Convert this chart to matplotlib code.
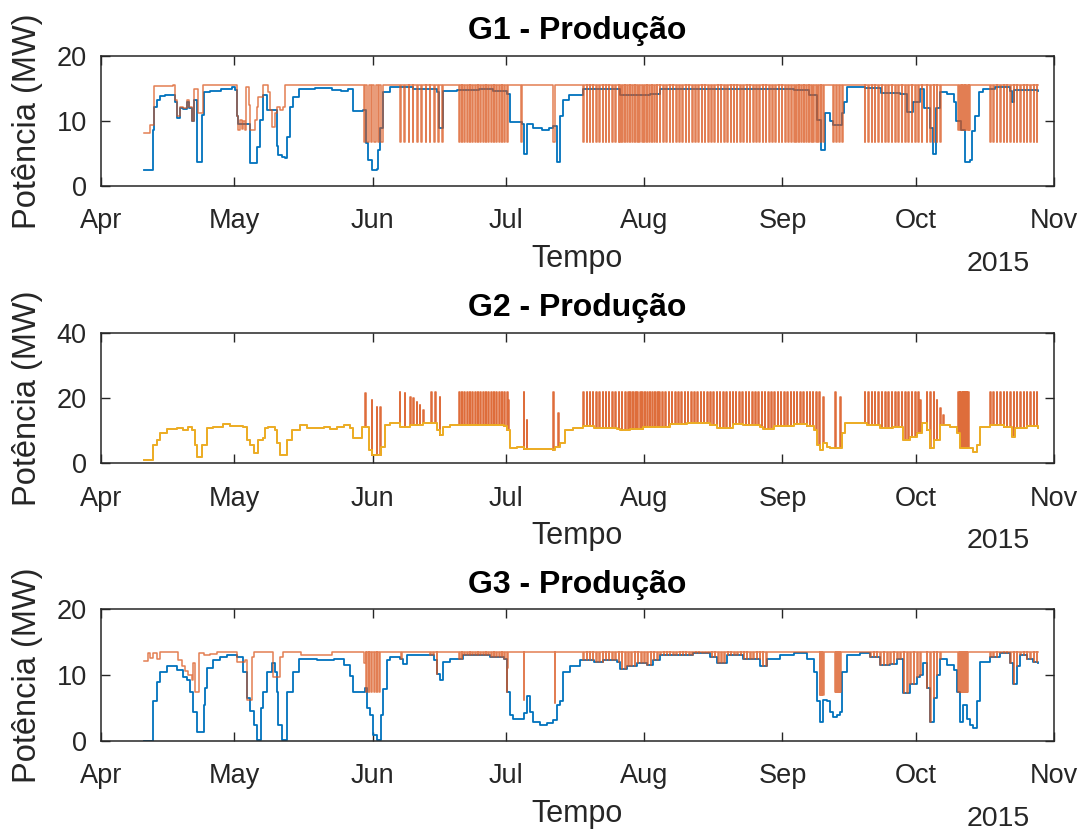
import numpy as np
import matplotlib
matplotlib.use("Agg")
import matplotlib.pyplot as plt
import matplotlib.dates as mdates

plt.rcParams['font.family'] = ['Liberation Sans', 'DejaVu Sans']

# ---------------- data (days since 2015-04-01, MW) ----------------
g1_blue_day = [9.8, 11.8, 12.0, 12.6, 13.3, 14.4, 16.7, 17.1, 17.8, 18.5, 19.3, 19.9, 20.4, 20.9, 21.5, 22.7,
               23.2, 24.5, 27.0, 29.5, 30.1, 30.5, 30.9, 33.5, 35.0, 35.7, 36.5, 37.3, 39.5, 39.9, 40.6, 41.4,
               41.7, 42.5, 43.2, 44.4, 48.0, 52.0, 54.0, 55.5, 56.7, 58.9, 59.5, 60.0, 60.8, 62.0, 62.3, 62.7,
               63.4, 64.9, 70.0, 75.4, 76.0, 76.9, 80.0, 85.0, 88.0, 91.1, 91.8, 94.5, 94.9, 95.6, 97.0, 99.0,
               100.5, 101.6, 102.3, 103.1, 103.8, 105.0, 108.3, 116.5, 123.3, 125.5, 155.5, 159.0, 160.7, 161.7,
               162.5, 163.7, 164.4, 166.0, 166.3, 166.7, 167.5, 171.5, 175.0, 179.4, 180.9, 182.4, 183.9, 184.7,
               186.0, 186.8, 187.5, 188.3, 190.0, 191.5, 192.0, 193.0, 194.0, 195.0, 195.6, 196.3, 197.0, 198.0,
               200.6, 204.0, 204.4, 205.0, 210.4]
g1_blue_val = [2.4, 8.6, 12.2, 13.2, 13.8, 14.0, 13.0, 10.5, 12.0, 11.8, 13.0, 12.0, 10.0, 13.2, 3.7, 10.9,
               14.5, 14.6, 15.0, 15.2, 14.8, 10.7, 9.6, 3.5, 6.0, 10.2, 14.0, 11.7, 6.1, 4.8, 4.5, 4.3,
               7.6, 12.2, 13.7, 15.0, 15.1, 14.8, 14.6, 15.0, 11.5, 11.7, 6.6, 4.0, 2.5, 2.6, 5.5, 9.0,
               14.5, 15.2, 15.0, 14.5, 9.0, 14.6, 14.8, 15.0, 14.6, 14.2, 9.9, 9.6, 5.0, 9.5, 9.0, 8.6,
               9.0, 9.2, 3.7, 10.7, 13.2, 14.0, 14.9, 14.0, 14.2, 14.9, 14.7, 14.0, 10.2, 5.5,
               11.2, 10.0, 9.4, 9.4, 11.2, 13.0, 15.2, 15.1, 14.3, 14.2, 11.4, 13.0, 14.9, 12.0,
               9.0, 5.0, 12.0, 14.5, 14.2, 12.9, 10.0, 8.6, 3.7, 4.0, 8.4, 10.7, 14.5, 14.9,
               15.2, 14.6, 13.0, 14.8, 14.6]

g1_orange_day = [9.8, 11.0, 11.9, 16.3, 16.7, 17.1, 17.8, 18.5, 19.3, 19.9, 20.4, 20.9, 21.9, 23.0, 30.1,
                 30.5, 30.9, 31.3, 31.6, 32.0, 32.3, 32.6, 33.2, 33.5, 34.6, 35.0, 35.3, 36.5, 37.6, 38.0,
                 38.4, 39.1, 39.5, 40.2, 41.0, 41.4, 210.4]
g1_orange_val = [8.1, 9.4, 15.4, 15.5, 13.2, 10.7, 12.2, 12.0, 13.2, 12.2, 10.0, 15.0, 11.2, 15.5, 15.5,
                 10.7, 8.6, 10.2, 8.8, 10.0, 8.6, 15.3, 12.5, 8.6, 10.2, 12.2, 13.7, 15.5, 14.5, 11.7,
                 9.1, 11.2, 12.2, 11.7, 12.2, 15.5, 15.5]
# spike groups: (first day, last day, spacing, duration, level)
g1_spikes = [(59.0, 62.6, 0.8, 0.3, 6.8), (67.2, 76.4, 0.95, 0.12, 6.8), (80.4, 91.0, 0.6, 0.12, 6.8),
             (94.4, 94.4, 1.0, 0.2, 6.8), (101.6, 101.6, 1.0, 0.25, 6.8), (108.3, 116.0, 0.72, 0.12, 6.8),
             (116.5, 125.0, 0.55, 0.15, 6.8), (125.5, 154.5, 0.72, 0.12, 6.8), (155.0, 162.2, 0.55, 0.15, 6.8),
             (164.4, 166.3, 0.65, 0.12, 6.8), (171.5, 184.0, 0.75, 0.12, 6.8), (185.4, 188.7, 0.75, 0.12, 6.8),
             (192.5, 195.0, 0.35, 0.15, 8.6), (199.6, 210.2, 0.75, 0.12, 6.8)]

g2_yellow_day = [9.8, 11.8, 12.6, 13.3, 14.8, 17.1, 18.5, 19.7, 20.4, 21.2, 21.5, 22.7, 23.8, 25.3, 27.5,
                 29.0, 32.0, 32.8, 33.5, 34.3, 35.4, 36.5, 36.9, 37.6, 39.1, 39.5, 40.2, 41.7, 42.9, 44.7,
                 46.2, 50.0, 51.5, 53.0, 54.5, 56.0, 56.7, 58.6, 60.1, 60.8, 63.0, 63.8, 64.9, 67.2, 69.4,
                 72.4, 75.4, 76.1, 76.9, 78.4, 90.4, 91.1, 91.9, 93.4, 94.9, 101.6, 102.0, 103.1, 104.2,
                 106.1, 108.3, 110.6, 115.8, 116.6, 118.8, 121.8, 124.0, 127.8, 131.5, 134.5, 136.8, 138.3,
                 142.0, 144.2, 148.0, 148.7, 151.0, 155.5, 158.4, 160.0, 160.7, 161.4, 162.2, 162.9, 163.7,
                 166.3, 167.0, 168.2, 171.9, 174.9, 177.9, 180.1, 181.6, 183.1, 184.3, 185.4, 186.1, 186.9,
                 188.4, 190.6, 192.1, 192.9, 195.8, 196.6, 197.3, 199.6, 202.6, 204.4, 205.2, 207.8, 210.4]
g2_yellow_val = [1.0, 5.6, 7.1, 9.2, 10.5, 10.9, 10.2, 11.2, 10.2, 5.6, 2.0, 5.6, 10.7, 11.2, 11.9,
                 11.5, 11.2, 7.1, 5.6, 3.1, 7.1, 7.7, 10.7, 11.2, 10.2, 6.1, 2.6, 7.1, 10.2, 11.7,
                 10.7, 11.2, 10.5, 11.2, 11.7, 10.7, 7.7, 11.2, 4.0, 2.6, 5.1, 11.7, 12.2, 11.2, 11.7,
                 12.2, 10.2, 8.7, 11.2, 11.7, 11.5, 10.2, 4.6, 5.1, 4.4, 4.1, 5.1, 6.1, 10.2,
                 10.9, 11.4, 10.7, 10.4, 10.2, 10.5, 11.0, 11.2, 12.0, 12.4, 12.2, 11.7, 10.9,
                 12.0, 11.7, 11.2, 10.4, 11.5, 12.0, 11.5, 10.2, 5.6, 4.1, 6.1, 5.1, 4.6,
                 9.2, 12.2, 12.4, 11.7, 10.7, 11.2, 7.1, 8.2, 9.2, 12.2, 10.2, 4.6, 7.1,
                 11.7, 11.2, 9.2, 4.6, 3.6, 5.6, 11.2, 11.7, 11.2, 8.2, 10.7, 11.4, 10.9]
# single spikes: (day, duration, level)
g2_single_spikes = [(59.4, 0.15, 21.4), (60.8, 0.15, 19.4), (61.9, 0.15, 17.3), (62.7, 0.15, 17.3),
                    (67.1, 0.15, 21.7), (68.2, 0.15, 21.4), (69.4, 0.15, 20.4), (70.1, 0.15, 19.9),
                    (70.9, 0.15, 18.9), (71.6, 0.15, 17.9), (72.4, 0.15, 16.3), (74.2, 0.15, 21.7),
                    (75.0, 0.15, 21.7), (76.1, 0.15, 20.4), (91.5, 0.15, 19.4), (94.9, 0.15, 21.7),
                    (95.6, 0.15, 13.3), (101.6, 0.15, 21.7), (102.7, 0.15, 15.3), (162.2, 0.15, 20.4),
                    (164.8, 0.15, 21.9), (165.9, 0.15, 20.4), (183.9, 0.15, 19.4), (187.6, 0.15, 19.4),
                    (188.4, 0.15, 16.8), (189.1, 0.15, 14.8)]
g2_spikes = [(80.4, 91.0, 0.6, 0.12, 21.7), (108.3, 118.5, 0.72, 0.12, 21.7), (118.8, 125.5, 0.55, 0.15, 21.7),
             (126.0, 161.4, 0.72, 0.12, 21.7), (171.5, 183.2, 0.75, 0.12, 21.7), (185.4, 187.0, 0.75, 0.12, 21.7),
             (192.5, 194.5, 0.3, 0.15, 21.7), (199.6, 210.2, 0.75, 0.12, 21.7)]

g3_blue_day = [9.8, 11.4, 11.8, 12.6, 13.3, 14.8, 17.1, 18.5, 19.3, 20.0, 20.8, 21.5, 23.1, 23.4, 23.8,
               25.3, 26.8, 28.3, 30.5, 32.0, 32.8, 33.5, 34.3, 35.0, 35.9, 36.5, 37.3, 38.4, 39.1, 39.5,
               39.9, 40.6, 41.9, 43.2, 44.4, 48.5, 50.0, 52.3, 54.5, 56.0, 56.7, 59.4, 59.7, 60.5, 61.2,
               62.0, 62.9, 63.4, 64.2, 64.9, 67.2, 67.9, 68.7, 72.4, 74.7, 75.4, 76.1, 76.9, 78.4, 81.4,
               87.4, 90.4, 91.1, 91.9, 92.6, 94.9, 95.6, 96.4, 97.1, 98.6, 100.1, 101.6, 102.3, 103.1,
               103.8, 105.3, 107.6, 110.6, 112.8, 115.8, 116.6, 118.1, 120.3, 122.5, 124.0, 125.5, 133.0,
               136.8, 138.3, 140.5, 144.2, 148.0, 149.5, 152.5, 155.5, 158.4, 160.0, 160.7, 161.4, 162.2,
               162.9, 163.7, 164.4, 165.2, 165.9, 166.3, 167.4, 170.4, 172.7, 174.9, 177.1, 178.6, 180.1,
               181.6, 183.1, 183.9, 184.6, 185.4, 186.1, 186.9, 187.6, 188.4, 189.9, 191.4, 192.1, 192.9,
               193.6, 194.4, 195.1, 195.8, 196.6, 197.3, 199.6, 201.8, 204.1, 204.8, 205.6, 206.3, 207.8,
               209.3, 210.4]
g3_blue_val = [0.0, 0.0, 6.0, 9.0, 10.5, 11.3, 10.7, 9.7, 9.2, 7.5, 4.4, 1.4, 5.5, 8.0, 11.0,
               12.3, 12.8, 13.1, 12.8, 10.5, 6.5, 4.5, 2.4, 0.2, 5.0, 7.5, 10.5, 11.8, 10.5, 7.5,
               2.4, 0.1, 7.5, 10.5, 12.4, 12.2, 12.3, 12.5, 11.5, 9.8, 7.5, 8.0, 5.0, 4.0, 0.9,
               0.15, 3.9, 7.9, 12.3, 12.8, 12.5, 11.7, 13.0, 13.1, 12.3, 10.1, 9.2, 12.0, 12.5, 13.0,
               12.8, 12.5, 7.5, 3.9, 3.4, 4.2, 6.8, 4.4, 2.9, 2.4, 2.7, 3.2, 5.5, 6.0,
               10.5, 11.3, 12.3, 12.0, 12.3, 12.0, 10.9, 11.3, 11.8, 11.5, 12.3, 13.1, 13.3,
               12.8, 11.8, 13.0, 12.5, 11.3, 12.5, 13.0, 13.3, 12.5, 10.5, 6.0, 2.9, 6.2,
               6.0, 4.4, 3.7, 3.9, 4.4, 10.5, 13.1, 13.3, 12.8, 11.5, 11.7, 12.5, 7.2,
               8.7, 9.7, 10.0, 11.8, 8.0, 2.9, 6.5, 10.0, 12.5, 11.5, 10.8, 7.5, 2.9,
               5.5, 3.4, 2.4, 1.9, 6.0, 12.0, 12.8, 13.3, 11.8, 8.7, 11.3, 13.0, 12.5,
               12.0, 11.8]

g3_orange_day = [9.8, 10.7, 11.1, 11.8, 12.6, 13.3, 17.4, 18.2, 18.9, 19.7, 20.4, 20.8, 21.2, 22.1,
                 23.1, 24.5, 26.0, 30.5, 32.4, 32.8, 33.9, 34.3, 38.7, 40.2, 40.8, 45.0, 52.0, 59.0, 59.5,
                 210.4]
g3_orange_val = [12.1, 13.4, 12.6, 13.4, 12.4, 13.5, 12.3, 11.3, 10.6, 10.0, 9.2, 11.8, 7.5, 13.4,
                 13.0, 13.2, 13.5, 12.0, 12.3, 6.2, 12.8, 13.5, 9.7, 12.8, 13.5, 13.0, 13.5, 11.8, 13.5,
                 13.5]
# level NaN -> spike reaches the blue curve
g3_spikes = [(59.5, 62.6, 0.6, 0.2, 7.5), (67.4, 67.4, 1.0, 0.15, np.nan), (73.9, 75.4, 0.75, 0.15, np.nan),
             (80.4, 91.0, 0.6, 0.12, np.nan), (91.2, 91.2, 1.0, 0.2, 11.0), (94.9, 94.9, 1.0, 0.15, 6.2),
             (101.9, 101.9, 1.0, 0.15, 5.8), (108.3, 149.5, 0.72, 0.12, np.nan), (161.4, 162.2, 0.2, 0.12, 7.0),
             (164.8, 166.0, 0.3, 0.12, 7.5), (172.7, 183.9, 0.75, 0.12, np.nan), (185.4, 188.4, 0.75, 0.12, np.nan),
             (192.5, 194.4, 0.25, 0.12, 7.5), (199.6, 210.1, 0.75, 0.12, np.nan)]

titles = ['G1 - Produção', 'G2 - Produção', 'G3 - Produção']
ylims = [(0, 20), (0, 40), (0, 20)]
yticks = [[0, 10, 20], [0, 20, 40], [0, 10, 20]]

BLUE, ORANGE, YELLOW = '#0072BD', '#D95319', '#EDB120'
DARK = '#262626'

# ---------------- helpers ----------------
T0 = mdates.date2num(np.datetime64('2015-04-01T00:00'))


def lookup(days, vals, t):
    days = np.asarray(days)
    vals = np.asarray(vals)
    i = np.clip(np.searchsorted(days, t, side='right') - 1, 0, len(vals) - 1)
    return vals[i]


def expand(groups):
    out = []
    for s, e, st, w, lv in groups:
        n = int(round((e - s) / st)) + 1
        for k in range(n):
            out.append((s + k * st, w, lv))
    return out


def build(base_d, base_v, spikes, ref_d=None, ref_v=None):
    ev = list(zip(base_d, base_v))
    for t, w, lv in spikes:
        if np.isnan(lv):
            lv = lookup(ref_d, ref_v, t)
        ev.append((t, lv))
        ev.append((t + w, lookup(base_d, base_v, t + w)))
    ev.sort(key=lambda p: p[0])
    d = np.array([p[0] for p in ev])
    v = np.array([p[1] for p in ev])
    return d, v


# ---------------- figure ----------------
W, H = 1083, 832
fig = plt.figure(figsize=(W / 100, H / 100), dpi=100)
boxes = [(100.7, 56, 1054.3, 186), (100.7, 332.7, 1054.3, 463.3), (100.7, 609, 1054.3, 741)]
axes = []
for (x0, y0, x1, y1) in boxes:
    axes.append(fig.add_axes([x0 / W, 1 - y1 / H, (x1 - x0) / W, (y1 - y0) / H]))

# G1
ax = axes[0]
ax.plot(T0 + np.array(g1_blue_day), g1_blue_val, color=BLUE, lw=1.3, drawstyle='steps-post')
od, ov = build(g1_orange_day, g1_orange_val, expand(g1_spikes))
ax.plot(T0 + od, ov, color=ORANGE, lw=1.1, alpha=0.75, drawstyle='steps-post')

# G2
ax = axes[1]
od, ov = build(g2_yellow_day, g2_yellow_val, expand(g2_spikes) + g2_single_spikes)
ax.plot(T0 + od, ov, color=ORANGE, lw=1.1, alpha=0.85, drawstyle='steps-post')
ax.plot(T0 + np.array(g2_yellow_day), g2_yellow_val, color=YELLOW, lw=1.3, drawstyle='steps-post')

# G3
ax = axes[2]
ax.plot(T0 + np.array(g3_blue_day), g3_blue_val, color=BLUE, lw=1.3, drawstyle='steps-post')
od, ov = build(g3_orange_day, g3_orange_val, expand(g3_spikes), g3_blue_day, g3_blue_val)
ax.plot(T0 + od, ov, color=ORANGE, lw=1.1, alpha=0.75, drawstyle='steps-post')

xmin = mdates.date2num(np.datetime64('2015-04-01'))
xmax = mdates.date2num(np.datetime64('2015-11-01'))
for i, ax in enumerate(axes):
    x0, y0, x1, y1 = boxes[i]
    ax.set_xlim(xmin, xmax)
    ax.set_ylim(*ylims[i])
    ax.set_yticks(yticks[i])
    ax.xaxis.set_major_locator(mdates.MonthLocator())
    ax.xaxis.set_major_formatter(mdates.DateFormatter('%b'))
    ax.tick_params(direction='in', length=6.5, width=1.0, top=True, right=True,
                   colors=DARK, labelsize=19.5)
    ax.tick_params(axis='x', pad=16)
    ax.tick_params(axis='y', pad=10)
    for s in ax.spines.values():
        s.set_color(DARK)
        s.set_linewidth(1.1)
    cx = (x0 + x1) / 2
    fig.text(cx / W, 1 - (y0 - 16.5) / H, titles[i], ha='center', va='baseline',
             fontsize=23, fontweight='bold', color='black')
    fig.text(cx / W, 1 - (y1 + 81) / H, 'Tempo', ha='center', va='baseline',
             fontsize=22, color=DARK)
    fig.text(1030 / W, 1 - (y1 + 85) / H, '2015', ha='right', va='baseline',
             fontsize=20.5, color=DARK)
    fig.text(28 / W, 1 - ((y0 + y1) / 2) / H, 'Potência (MW)', rotation=90,
             ha='center', va='center', fontsize=23.5, color=DARK)

fig.savefig('out.png', dpi=100, facecolor='white')
